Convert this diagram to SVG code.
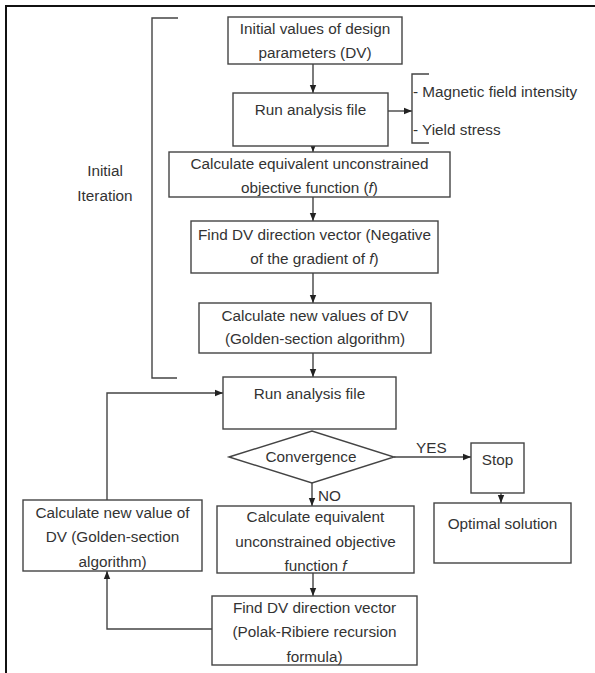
<svg xmlns="http://www.w3.org/2000/svg" width="595" height="673" viewBox="0 0 595 673">
<defs>
<marker id="ah" viewBox="0 0 8 8" refX="8" refY="4" markerWidth="8" markerHeight="8" markerUnits="userSpaceOnUse" orient="auto">
<path d="M0,0.8 L8,4 L0,7.2 Z" fill="#222"/>
</marker>
<style>
.box{fill:#fff;stroke:#444;stroke-width:1.4}
.ln{fill:none;stroke:#444;stroke-width:1.4}
.t{font-family:"Liberation Sans",Arial,sans-serif;font-size:15.3px;fill:#333;text-anchor:middle}
.tl{font-family:"Liberation Sans",Arial,sans-serif;font-size:15.3px;fill:#333}
.i{font-style:italic}
</style>
</defs>
<rect width="595" height="673" fill="#fff"/>
<path d="M6 673 V6 H595" fill="none" stroke="#111" stroke-width="2"/>

<g id="connectors">
<path class="ln" d="M313 64 V93" marker-end="url(#ah)"/>
<path class="ln" d="M388 111 H412" marker-end="url(#ah)"/>
<path class="ln" d="M313 146 V152" marker-end="url(#ah)"/>
<path class="ln" d="M313 197 V221" marker-end="url(#ah)"/>
<path class="ln" d="M313 273 V303" marker-end="url(#ah)"/>
<path class="ln" d="M313 353 V377" marker-end="url(#ah)"/>
<path class="ln" d="M107 500 V393 H223" marker-end="url(#ah)"/>
<path class="ln" d="M394 457 H471" marker-end="url(#ah)"/>
<path class="ln" d="M501 493 V503" marker-end="url(#ah)"/>
<path class="ln" d="M312 483 V506" marker-end="url(#ah)"/>
<path class="ln" d="M313 573 V596" marker-end="url(#ah)"/>
<path class="ln" d="M212 629 H107 V571" marker-end="url(#ah)"/>
</g>

<g id="bracket-initial">
<path class="ln" d="M178 18 H152 V378 H177"/>
<text class="t" x="105" y="176">Initial</text>
<text class="t" x="105" y="201">Iteration</text>
</g>

<g id="outputs">
<path class="ln" d="M429 74 H412 V143 H429"/>
<text class="tl" x="413" y="96.5">- Magnetic field intensity</text>
<text class="tl" x="413" y="134.5">- Yield stress</text>
</g>

<g id="n1">
<rect class="box" x="228" y="17" width="174" height="47"/>
<text class="t" x="315" y="34">Initial values of design</text>
<text class="t" x="315" y="58">parameters (DV)</text>
</g>
<g id="n2">
<rect class="box" x="233" y="93" width="155" height="53"/>
<text class="t" x="310.5" y="115">Run analysis file</text>
</g>
<g id="n3">
<rect class="box" x="169" y="152" width="281" height="45"/>
<text class="t" x="309.5" y="169">Calculate equivalent unconstrained</text>
<text class="t" x="309.5" y="193">objective function (<tspan class="i">f</tspan>)</text>
</g>
<g id="n4">
<rect class="box" x="191" y="221" width="247" height="52"/>
<text class="t" x="314.5" y="240">Find DV direction vector (Negative</text>
<text class="t" x="314.5" y="264">of the gradient of <tspan class="i">f</tspan>)</text>
</g>
<g id="n5">
<rect class="box" x="199" y="303" width="232" height="50"/>
<text class="t" x="315" y="321">Calculate new values of DV</text>
<text class="t" x="315" y="344">(Golden-section algorithm)</text>
</g>
<g id="n6">
<rect class="box" x="223" y="377" width="173" height="52"/>
<text class="t" x="309.5" y="399">Run analysis file</text>
</g>
<g id="n7">
<path class="box" d="M229 457 L312 431 L394 457 L312 483 Z"/>
<text class="t" x="311" y="462">Convergence</text>
<text class="tl" x="416" y="453">YES</text>
<text class="tl" x="318" y="501">NO</text>
</g>
<g id="n8">
<rect class="box" x="471" y="443" width="53" height="50"/>
<text class="t" x="497.5" y="465">Stop</text>
</g>
<g id="n9">
<rect class="box" x="434" y="503" width="137" height="60"/>
<text class="t" x="502.5" y="529">Optimal solution</text>
</g>
<g id="n10">
<rect class="box" x="23" y="500" width="179" height="71"/>
<text class="t" x="112.5" y="518">Calculate new value of</text>
<text class="t" x="112.5" y="542">DV (Golden-section</text>
<text class="t" x="112.5" y="567">algorithm)</text>
</g>
<g id="n11">
<rect class="box" x="217" y="506" width="197" height="67"/>
<text class="t" x="315.5" y="522">Calculate equivalent</text>
<text class="t" x="315.5" y="547">unconstrained objective</text>
<text class="t" x="315.5" y="571">function <tspan class="i">f</tspan></text>
</g>
<g id="n12">
<rect class="box" x="212" y="596" width="205" height="69"/>
<text class="t" x="314.5" y="613">Find DV direction vector</text>
<text class="t" x="314.5" y="637">(Polak-Ribiere recursion</text>
<text class="t" x="314.5" y="662">formula)</text>
</g>
</svg>
